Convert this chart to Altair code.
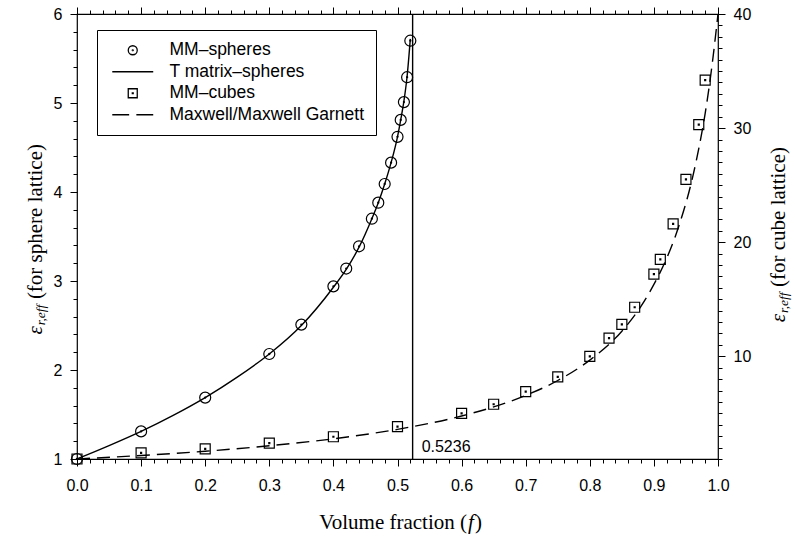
import altair as alt
import pandas as pd

# ---------------- data ----------------
legend_labels = ["MM–spheres", "T matrix–spheres", "MM–cubes", "Maxwell/Maxwell Garnett"]

f_mm_spheres = [0.0, 0.1, 0.2, 0.3, 0.35, 0.4, 0.42, 0.44, 0.46, 0.47, 0.48, 0.49, 0.50, 0.505, 0.51, 0.515, 0.52]
eps_mm_spheres = [1.0, 1.31, 1.69, 2.18, 2.51, 2.94, 3.14, 3.39, 3.70, 3.88, 4.09, 4.33, 4.62, 4.81, 5.01, 5.29, 5.70]

f_tmatrix = [0.0, 0.05, 0.1, 0.15, 0.2, 0.25, 0.3, 0.35, 0.4, 0.42, 0.44, 0.46, 0.47, 0.48, 0.49, 0.50, 0.505, 0.51, 0.515, 0.52]
eps_tmatrix = [1.0, 1.15, 1.31, 1.49, 1.69, 1.92, 2.18, 2.50, 2.93, 3.13, 3.38, 3.70, 3.88, 4.09, 4.33, 4.62, 4.81, 5.02, 5.30, 5.72]

f_mm_cubes = [0.0, 0.1, 0.2, 0.3, 0.4, 0.5, 0.6, 0.65, 0.7, 0.75, 0.8, 0.83, 0.85, 0.87, 0.9, 0.91, 0.93, 0.95, 0.97, 0.98]
eps_mm_cubes = [1.0, 1.53, 1.88, 2.40, 2.95, 3.83, 5.00, 5.80, 6.90, 8.20, 10.0, 11.6, 12.8, 14.3, 17.2, 18.5, 21.6, 25.5, 30.3, 34.2]

f_maxwell = [0.0, 0.1, 0.2, 0.3, 0.4, 0.5, 0.6, 0.7, 0.75, 0.8, 0.85, 0.88, 0.9, 0.92, 0.94, 0.96, 0.97, 0.98, 0.99, 1.0]
eps_maxwell = [1.0, 1.31, 1.68, 2.16, 2.77, 3.60, 4.77, 6.57, 7.88, 9.67, 12.2, 14.4, 16.3, 18.6, 21.6, 25.6, 28.2, 31.3, 35.2, 40.0]

f_close_packed = [0.5236]
close_packed_label = ["0.5236"]

x_ticks = [0.0, 0.1, 0.2, 0.3, 0.4, 0.5, 0.6, 0.7, 0.8, 0.9, 1.0]
x_minor = [i / 50 for i in range(51) if i % 5 != 0]
left_ticks = [1, 2, 3, 4, 5, 6]
left_minor = [round(1 + i * 0.2, 2) for i in range(26) if i % 5 != 0]
right_ticks = [10, 20, 30, 40]
right_minor = [i for i in range(1, 40) if i % 10 != 0]

x_title = ["Volume fraction (", "f", ")"]
left_title = ["ε", "r,eff", "(for sphere lattice)"]
right_title = ["ε", "r,eff", "(for cube lattice)"]

# ---------------- styling ----------------
SANS = "Liberation Sans, Arial, Helvetica, sans-serif"
SERIF = "Liberation Serif, Times New Roman, serif"
W, H = 641, 445
TFS = 21
SFS = 13.5

circle_path = ("M-1,0A1,1 0 1,0 1,0A1,1 0 1,0 -1,0Z "
               "M-0.1,0A0.1,0.1 0 1,0 0.1,0A0.1,0.1 0 1,0 -0.1,0Z")
square_path = "M-1,-1H1V1H-1Z M-0.1,-0.1H0.1V0.1H-0.1Z"
line_path = "M-4.55,0H4.55"
dash_path = "M-4.55,0H-0.8M0.8,0H4.55"

xs = alt.Scale(domain=[0, 1], nice=False, zero=False)
yl = alt.Scale(domain=[1, 6], nice=False, zero=False)
yr = alt.Scale(domain=[1, 40], nice=False, zero=False)
shape_scale = alt.Scale(domain=legend_labels, range=[circle_path, line_path, square_path, dash_path])

legend = alt.Legend(
    title=None, orient="none", legendX=20, legendY=16,
    fillColor="white", strokeColor="black", padding=11.5, cornerRadius=0,
    symbolSize=81, symbolStrokeWidth=1.3, symbolStrokeColor="black",
    symbolFillColor="transparent", symbolOffset=15.5, labelOffset=28,
    labelFont=SANS, labelFontSize=17.5, labelColor="black", labelLimit=400,
    rowPadding=2.5,
)


def axis(orient, values, size, labels, fmt=None, pad=8):
    kw = dict(orient=orient, values=values, tickSize=size, labels=labels, domain=False,
              grid=False, title=None, ticks=True, tickColor="black", tickWidth=1)
    if labels:
        kw.update(format=fmt, labelFont=SANS, labelFontSize=16, labelColor="black",
                  labelPadding=pad, labelFlush=False, labelOverlap=False)
    return alt.Axis(**kw)


df_sph = pd.DataFrame({"f": f_mm_spheres, "eps": eps_mm_spheres, "series": legend_labels[0]})
df_tm = pd.DataFrame({"f": f_tmatrix, "eps": eps_tmatrix})
df_cub = pd.DataFrame({"f": f_mm_cubes, "eps": eps_mm_cubes, "series": legend_labels[2]})
df_mg = pd.DataFrame({"f": f_maxwell, "eps": eps_maxwell})
df_cp = pd.DataFrame({"f": f_close_packed, "label": close_packed_label})
one = pd.DataFrame({"a": [0]})

tm_line = alt.Chart(df_tm).mark_line(color="black", strokeWidth=1.4, interpolate="monotone").encode(
    x=alt.X("f:Q", scale=xs, axis=axis("bottom", x_ticks, 7, True, ".1f", 11)),
    y=alt.Y("eps:Q", scale=yl, axis=axis("left", left_ticks, 7, True, "d")),
)
sph_pts = alt.Chart(df_sph).mark_point(filled=False, color="black", size=121, strokeWidth=1.2, opacity=1).encode(
    x=alt.X("f:Q", scale=xs, axis=axis("bottom", x_minor, 4, False)),
    y=alt.Y("eps:Q", scale=yl, axis=axis("left", left_minor, 4, False)),
    shape=alt.Shape("series:N", scale=shape_scale, legend=legend),
)
mg_line = alt.Chart(df_mg).mark_line(color="black", strokeWidth=1.4, strokeDash=[13, 7], interpolate="monotone").encode(
    x=alt.X("f:Q", scale=xs, axis=axis("top", x_ticks, 7, False)),
    y=alt.Y("eps:Q", scale=yr, axis=axis("right", right_ticks, 7, True, "d")),
)
cub_pts = alt.Chart(df_cub).mark_point(filled=False, color="black", size=100, strokeWidth=1.2, opacity=1).encode(
    x=alt.X("f:Q", scale=xs, axis=axis("top", x_minor, 4, False)),
    y=alt.Y("eps:Q", scale=yr, axis=axis("right", right_minor, 4, False)),
    shape=alt.Shape("series:N", scale=shape_scale, legend=legend),
)
cp_rule = alt.Chart(df_cp).mark_rule(color="black", strokeWidth=1.4).encode(
    x=alt.X("f:Q", scale=xs, axis=None),
)
cp_text = alt.Chart(df_cp).mark_text(align="left", baseline="middle", dx=9, font=SANS, fontSize=16, color="black").encode(
    x=alt.X("f:Q", scale=xs, axis=None),
    y=alt.value(433),
    text="label:N",
)


def txt(s, x, y, size=TFS, style="normal", align="left", angle=0):
    return alt.Chart(one).mark_text(text=s, align=align, baseline="middle", font=SERIF, fontSize=size,
                                    fontStyle=style, color="black", angle=angle).encode(
        x=alt.value(x), y=alt.value(y))


# x title: "Volume fraction (f)"
pivot = 390
xt_y = 509
titles = [
    txt(x_title[0], pivot, xt_y, align="right"),
    txt(x_title[1], pivot + 1, xt_y, style="italic"),
    txt(x_title[2], pivot + 8, xt_y),
]
# left title (rotated, reading bottom-to-top)
eps_w = 0.44 * TFS
sub_w = 1.64 * SFS
lx = -41
ly0 = H / 2 + 98
titles += [
    txt(left_title[0], lx, ly0, style="italic", angle=270),
    txt(left_title[1], lx + 5, ly0 - eps_w, size=SFS, style="italic", angle=270),
    txt(left_title[2], lx, ly0 - eps_w - sub_w - 4, angle=270),
]
# right title
rx = 702
ry0 = 133 + 6.664 * TFS + 4 + sub_w + eps_w
titles += [
    txt(right_title[0], rx, ry0, style="italic", angle=270),
    txt(right_title[1], rx + 5, ry0 - eps_w, size=SFS, style="italic", angle=270),
    txt(right_title[2], rx, ry0 - eps_w - sub_w - 4, angle=270),
]

chart = alt.layer(tm_line, sph_pts, mg_line, cub_pts, cp_rule, cp_text, *titles).resolve_scale(
    y="independent"
).resolve_axis(
    x="independent", y="independent"
).properties(
    width=W, height=H,
    autosize=alt.AutoSizeParams(type="none"),
    padding={"left": 77, "top": 14, "right": 77, "bottom": 78},
    background="white",
).configure_view(stroke="black", strokeWidth=1.2)

chart.save("out.html", embed_options={"renderer": "svg", "actions": False})
